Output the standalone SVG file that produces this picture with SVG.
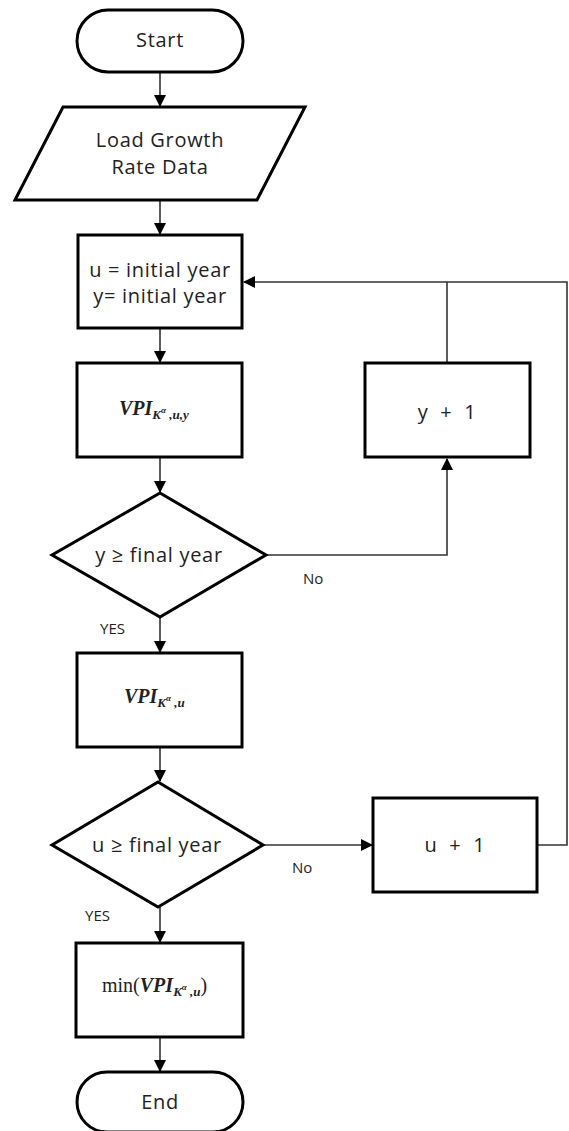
<svg xmlns="http://www.w3.org/2000/svg" width="569" height="1131" viewBox="0 0 569 1131">
<defs>
<marker id="ah" markerWidth="12" markerHeight="12" refX="11" refY="6" orient="auto" markerUnits="userSpaceOnUse">
<path d="M0,0 L12,6 L0,12 Z" fill="#000"/>
</marker>
<style>
.shape{fill:#fff;stroke:#000;stroke-width:3}
.conn{fill:none;stroke:#333;stroke-width:1.6}
.lbl{font-family:"Open Sans","Noto Sans",sans-serif;font-size:20px;fill:#222;text-anchor:middle;letter-spacing:0.7px}
.small{font-family:"Open Sans","Noto Sans",sans-serif;font-size:15px;fill:#222;letter-spacing:0px}
.math{font-family:"Liberation Serif",serif;font-style:italic;font-weight:bold;font-size:20px;fill:#222}
.sub{font-size:13px}
.sup{font-size:9px}
</style>
</defs>
<rect width="569" height="1131" fill="#fff"/>
<g id="connectors">
<line class="conn" x1="160" y1="72" x2="160" y2="106" marker-end="url(#ah)"/>
<line class="conn" x1="160" y1="200" x2="160" y2="234" marker-end="url(#ah)"/>
<line class="conn" x1="160" y1="328" x2="160" y2="362" marker-end="url(#ah)"/>
<line class="conn" x1="160" y1="457" x2="160" y2="492" marker-end="url(#ah)"/>
<polyline class="conn" points="266,555 447,555 447,459" marker-end="url(#ah)"/>
<line class="conn" x1="447" y1="363" x2="447" y2="282"/>
<polyline class="conn" points="537,845 567,845 567,282 244,282" marker-end="url(#ah)"/>
<line class="conn" x1="160" y1="617" x2="160" y2="652" marker-end="url(#ah)"/>
<line class="conn" x1="160" y1="747" x2="160" y2="781" marker-end="url(#ah)"/>
<line class="conn" x1="263" y1="845" x2="372" y2="845" marker-end="url(#ah)"/>
<line class="conn" x1="160" y1="907" x2="160" y2="942" marker-end="url(#ah)"/>
<line class="conn" x1="160" y1="1037" x2="160" y2="1071" marker-end="url(#ah)"/>
<text class="small" x="303" y="584">No</text>
<text class="small" x="100" y="634" letter-spacing="0.8">YES</text>
<text class="small" x="292" y="873">No</text>
<text class="small" x="85" y="921" letter-spacing="0.8">YES</text>
</g>
<g id="start">
<rect class="shape" x="77" y="10" width="166" height="62" rx="31" ry="31"/>
<text class="lbl" x="160" y="47">Start</text>
</g>
<g id="load">
<polygon class="shape" points="63,107 305,107 257,200 15,200"/>
<text class="lbl" x="160" y="147">Load Growth</text>
<text class="lbl" x="160" y="174">Rate Data</text>
</g>
<g id="init">
<rect class="shape" x="78" y="235" width="164" height="93"/>
<text class="lbl" x="160" y="277">u = initial year</text>
<text class="lbl" x="160" y="303">y= initial year</text>
</g>
<g id="vpi-uy">
<rect class="shape" x="77" y="363" width="165" height="94"/>
<text class="math" x="119" y="415">VPI<tspan class="sub" dy="4">K</tspan><tspan class="sup" dy="-6">α</tspan><tspan class="sub" dy="6"> ,u,y</tspan></text>
</g>
<g id="dec-y">
<polygon class="shape" points="160,493 266,555 160,617 52,555"/>
<text class="lbl" x="159" y="562">y ≥ final year</text>
</g>
<g id="y-plus">
<rect class="shape" x="365" y="363" width="165" height="94"/>
<text class="lbl" x="447" y="419" xml:space="preserve">y  +  1</text>
</g>
<g id="vpi-u">
<rect class="shape" x="77" y="653" width="165" height="94"/>
<text class="math" x="124" y="703">VPI<tspan class="sub" dy="4">K</tspan><tspan class="sup" dy="-6">α</tspan><tspan class="sub" dy="6"> ,u</tspan></text>
</g>
<g id="dec-u">
<polygon class="shape" points="158,782 263,845 158,907 52,845"/>
<text class="lbl" x="157" y="852">u ≥ final year</text>
</g>
<g id="u-plus">
<rect class="shape" x="373" y="798" width="164" height="94"/>
<text class="lbl" x="455" y="852" xml:space="preserve">u  +  1</text>
</g>
<g id="min">
<rect class="shape" x="76" y="943" width="167" height="94"/>
<text class="math" x="102" y="992"><tspan font-style="normal" font-weight="normal">min(</tspan>VPI<tspan class="sub" dy="4">K</tspan><tspan class="sup" dy="-6">α</tspan><tspan class="sub" dy="6"> ,u</tspan><tspan dy="-4" font-style="normal" font-weight="normal">)</tspan></text>
</g>
<g id="end">
<rect class="shape" x="77" y="1072" width="166" height="60" rx="30" ry="30"/>
<text class="lbl" x="160" y="1109">End</text>
</g>
</svg>
